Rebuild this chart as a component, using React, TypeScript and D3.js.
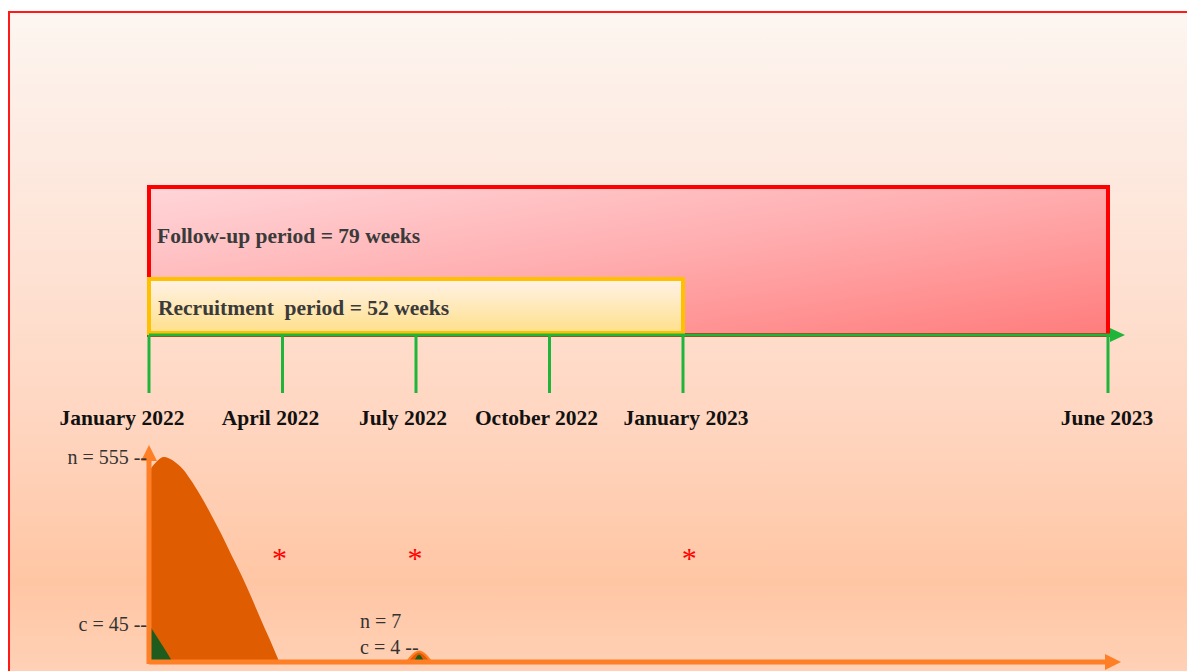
import React from "react";
import * as d3 from "d3";

// timeline (weeks from January 2022)
const tickWeeks = [0, 13, 26, 39, 52, 79];
const tickLabels = ["January 2022", "April 2022", "July 2022", "October 2022", "January 2023", "June 2023"];
const followUpWeeks = [0, 79];
const recruitWeeks = [0, 52];

// recruited (n) and cases (c) per week
const nWeeks = [0, 1.4, 3, 4, 5, 6, 7, 8, 9, 10, 11, 12, 12.7];
const nValues = [500, 555, 520, 470, 410, 345, 280, 215, 157, 100, 50, 14, 0];
const cWeeks = [0, 1, 2.3];
const cValues = [45, 20, 0];
const n2Weeks = [25.1, 26.3, 27.5];
const n2Values = [0, 7, 0];
const c2Weeks = [25.8, 26.3, 26.8];
const c2Values = [0, 4, 0];
const starWeeks = [12.7, 25.9, 52.4];

const W = 1187;
const H = 671;
const serif = "'Liberation Serif', 'Times New Roman', serif";

const App: React.FC = () => {
  const x = d3.scaleLinear().domain([0, 52, 79]).range([149, 683, 1108]);
  const axisY = 335;
  const tickBottom = 393;
  const baseY = 662;
  const y = d3.scalePow().exponent(0.68).domain([0, 555]).range([baseY, 457]);

  const area = (ws: number[], vs: number[], curve: d3.CurveFactory) =>
    d3
      .area<number>()
      .x((w) => x(w))
      .y0(baseY)
      .y1((w, i) => y(vs[i]))
      .curve(curve)(ws) || "";

  const labelShift = [-27, -12, -13, -13, 3, -1];

  return (
    <svg
      width={W}
      height={H}
      style={{ position: "fixed", left: 0, top: 0, background: "#fff" }}
    >
      <defs>
        <linearGradient id="bg" x1="0" y1="0" x2="0" y2="1" gradientUnits="objectBoundingBox">
          <stop offset="0" stopColor="#fdf6f1" />
          <stop offset="0.15" stopColor="#fdede5" />
          <stop offset="0.4" stopColor="#fee1d2" />
          <stop offset="0.62" stopColor="#ffd5bf" />
          <stop offset="0.85" stopColor="#ffc6a4" />
          <stop offset="1" stopColor="#ffd2b8" />
        </linearGradient>
        <linearGradient id="red" x1="0" y1="0" x2="1" y2="1">
          <stop offset="0" stopColor="#ffd6d9" />
          <stop offset="0.5" stopColor="#ffacae" />
          <stop offset="1" stopColor="#ff7c7c" />
        </linearGradient>
        <linearGradient id="yel" x1="0" y1="0" x2="0" y2="1">
          <stop offset="0" stopColor="#fff2e8" />
          <stop offset="1" stopColor="#ffe08a" />
        </linearGradient>
      </defs>

      {/* outer frame */}
      <rect x={9} y={12} width={W} height={H} fill="url(#bg)" stroke="#ff1a1a" strokeWidth={2} />

      {/* periods */}
      <rect
        x={x(followUpWeeks[0])}
        y={187}
        width={x(followUpWeeks[1]) - x(followUpWeeks[0])}
        height={axisY - 187}
        fill="url(#red)"
        stroke="#ff0000"
        strokeWidth={4}
      />
      <rect
        x={x(recruitWeeks[0])}
        y={279}
        width={x(recruitWeeks[1]) - x(recruitWeeks[0])}
        height={axisY - 2 - 279}
        fill="url(#yel)"
        stroke="#ffc000"
        strokeWidth={4}
      />
      <text x={157} y={243} fontFamily={serif} fontWeight="bold" fontSize={21.5} fill="#3a3a3a">
        Follow-up period = 79 weeks
      </text>
      <text x={158} y={315} fontFamily={serif} fontWeight="bold" fontSize={21.5} fill="#3a3a3a" xmlSpace="preserve">
        Recruitment  period = 52 weeks
      </text>

      {/* timeline axis */}
      <line x1={x(0)} y1={axisY} x2={1112} y2={axisY} stroke="#1fb53a" strokeWidth={3} />
      <path d={`M1110,${axisY - 7}L1125,${axisY}L1110,${axisY + 7}Z`} fill="#1fb53a" />
      {tickWeeks.map((w, i) => (
        <g key={i}>
          <line x1={x(w)} y1={axisY} x2={x(w)} y2={tickBottom} stroke="#1fb53a" strokeWidth={3} />
          <text
            x={x(w) + labelShift[i]}
            y={425}
            textAnchor="middle"
            fontFamily={serif}
            fontWeight="bold"
            fontSize={21.5}
            fill="#111"
          >
            {tickLabels[i]}
          </text>
        </g>
      ))}

      {/* recruitment curve */}
      <path d={area(nWeeks, nValues, d3.curveCatmullRom)} fill="#e05c00" />
      <path d={area(cWeeks, cValues, d3.curveMonotoneX)} fill="#1d5c1d" />
      <path d={area(n2Weeks, n2Values, d3.curveNatural)} fill="#e05c00" stroke="#ff7f27" strokeWidth={2} />
      <path d={area(c2Weeks, c2Values, d3.curveNatural)} fill="#1d5c1d" />

      {/* bottom axes */}
      <line x1={x(0)} y1={baseY} x2={1108} y2={baseY} stroke="#ff7f27" strokeWidth={5} />
      <path d={`M1105,${baseY - 8}L1121,${baseY}L1105,${baseY + 8}Z`} fill="#ff7f27" />
      <line x1={x(0)} y1={baseY + 2} x2={x(0)} y2={458} stroke="#ff7f27" strokeWidth={5} />
      <path d={`M${x(0) - 8},461L${x(0)},445L${x(0) + 8},461Z`} fill="#ff7f27" />

      {/* value labels */}
      <g fontFamily={serif} fontSize={20} fill="#333">
        <text x={147} y={y(555) + 7} textAnchor="end">n = 555 --</text>
        <text x={147} y={y(45) + 6} textAnchor="end">c = 45 --</text>
        <text x={x(26.3) - 59} y={628}>n = 7</text>
        <text x={x(26.3) - 59} y={654}>c = 4 --</text>
      </g>

      {/* asterisks */}
      {starWeeks.map((w, i) => (
        <text
          key={i}
          x={x(w)}
          y={568}
          textAnchor="middle"
          fontFamily={serif}
          fontSize={30}
          fill="#ff0000"
        >
          *
        </text>
      ))}
    </svg>
  );
};

export default App;
